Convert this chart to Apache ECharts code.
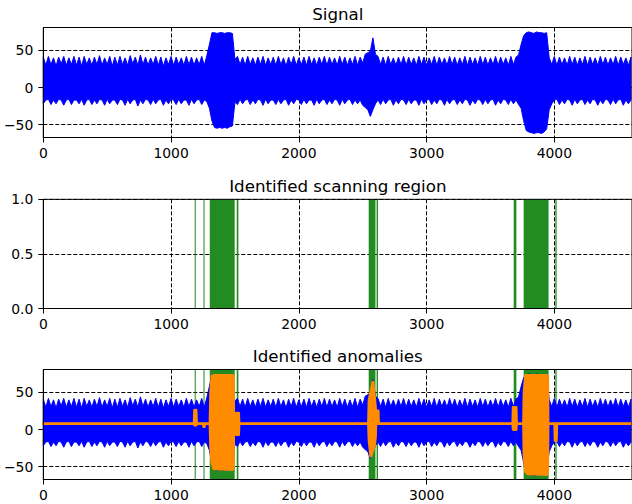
<!DOCTYPE html>
<html>
<head>
<meta charset="utf-8">
<script src="https://cdn.jsdelivr.net/npm/echarts@6/dist/echarts.min.js"></script>
<style>
  html, body { margin: 0; padding: 0; background: #fff; }
  #chart { width: 632px; height: 504px; }
</style>
</head>
<body>
<div id="chart"></div>
<script>
// Signal envelope, one max/min pair per 20-sample bin (bin i starts at sample i*20)
const SAMPLE_STEP = 20;
const SIGNAL_UPPER = [
  41,30,42,31,40,29,41,32,42,30,
  40,31,42,30,41,29,42,31,40,30,
  41,31,43,30,40,31,42,29,41,30,
  42,31,40,30,43,32,41,30,44,31,
  41,30,40,31,42,30,41,29,40,31,
  42,30,41,31,40,30,42,31,41,30,
  40,31,42,30,43,58,74,74,73,74,
  74,73,74,74,73,38,42,31,41,30,
  42,31,40,30,41,31,42,30,40,31,
  41,30,42,31,40,29,41,31,42,30,
  40,31,41,30,42,31,40,30,41,31,
  42,30,41,31,40,30,42,31,41,30,
  40,31,42,30,41,33,45,47,49,67,
  45,42,31,41,30,42,31,40,30,41,
  31,42,30,41,31,40,30,42,31,41,
  30,40,31,42,30,41,31,40,30,42,
  31,41,30,40,31,42,30,41,31,40,
  30,42,31,41,30,40,31,42,30,41,
  31,40,30,42,31,41,44,58,70,74,
  75,74,73,75,74,74,73,74,40,31,
  42,30,41,31,40,30,42,31,41,30,
  40,31,42,30,41,31,40,30,42,31,
  41,30,40,31,42,30,41,31,40,30,
  41
];
const SIGNAL_LOWER = [
  -22,-17,-16,-23,-17,-22,-16,-17,-24,-17,
  -16,-23,-17,-17,-22,-16,-24,-17,-16,-23,
  -17,-22,-16,-17,-24,-16,-22,-17,-17,-23,
  -16,-17,-24,-16,-22,-17,-16,-25,-17,-22,
  -16,-17,-23,-16,-22,-17,-16,-24,-17,-22,
  -16,-17,-23,-16,-22,-17,-17,-24,-16,-22,
  -17,-16,-23,-17,-19,-28,-45,-54,-55,-54,
  -55,-54,-55,-53,-52,-20,-23,-16,-22,-17,
  -16,-23,-17,-22,-16,-17,-24,-16,-22,-17,
  -17,-23,-16,-22,-17,-16,-24,-17,-22,-16,
  -17,-23,-16,-22,-17,-17,-24,-16,-22,-17,
  -16,-23,-17,-22,-16,-17,-24,-16,-22,-17,
  -16,-23,-17,-22,-17,-24,-27,-30,-39,-30,
  -22,-17,-23,-16,-22,-17,-16,-24,-17,-22,
  -16,-17,-23,-16,-22,-17,-17,-24,-16,-22,
  -17,-16,-23,-17,-22,-16,-17,-24,-16,-22,
  -17,-16,-23,-17,-22,-16,-17,-24,-17,-22,
  -16,-17,-23,-16,-22,-17,-16,-24,-17,-22,
  -16,-17,-23,-16,-22,-17,-23,-28,-45,-58,
  -60,-61,-62,-61,-61,-62,-60,-56,-30,-22,
  -17,-16,-23,-17,-22,-16,-17,-24,-16,-22,
  -17,-16,-23,-17,-22,-16,-17,-24,-17,-22,
  -16,-17,-23,-16,-22,-17,-16,-24,-17,-22,
  -17
];

// Anomaly trace: flat at the baseline, following the signal inside flagged windows
const ANOMALY_X = [
  0, 1181, 1184, 1196, 1199, 1253, 1255, 1261, 1263,
  1305, 1310, 1320, 1335, 1480, 1488, 1491,
  1508, 1511, 1529, 1532,
  2545, 2550, 2563, 2580, 2592, 2600, 2603,
  2608, 2611, 2621, 2624,
  3675, 3678, 3701, 3704,
  3759, 3763, 3775, 3790, 3940, 3948, 3951,
  4003, 4006, 4016, 4019, 4608
];
const ANOMALY_UPPER = [
  8, 8, 26, 26, 8, 8, 8, 8, 8,
  8, 50, 72, 73, 73, 72, 8,
  8, 22, 22, 8,
  8, 40, 50, 64, 45, 30, 8,
  8, 25, 25, 8,
  8, 30, 30, 8,
  8, 50, 73, 73, 73, 72, 8,
  8, 8, 8, 8, 8
];
const ANOMALY_LOWER = [
  8, 8, 6, 6, 8, 8, 4, 4, 8,
  8, -25, -45, -53, -54, -50, 8,
  8, -7, -7, 8,
  8, -15, -36, -28, -22, -10, 8,
  8, 8, 8, 8,
  8, 0, 0, 8,
  8, -35, -57, -60, -61, -56, 8,
  8, -15, -15, 8, 8
];

// Scanning regions (sample index ranges)
const REGION_START = [1185, 1254, 1303, 1514, 2547, 2609, 3682, 3760, 4008];
const REGION_END   = [1193, 1262, 1498, 1527, 2600, 2620, 3703, 3955, 4018];

const X_TICKS = [0, 1000, 2000, 3000, 4000];
const SIGNAL_TICKS = [-50, 0, 50];
const MASK_TICKS = [0, 0.5, 1];
const TITLES = ['Signal', 'Identified scanning region', 'Identified anomalies'];

const FONT = 'DejaVu Sans';
const BLUE = '#0000ff';
const ORANGE = '#ff8c00';
const GREEN = '#228b22';
const X_MAX = 4608;
const SIG_MIN = -67.5, SIG_MAX = 81;

const SIGNAL_X = SIGNAL_UPPER.map((_, i) => i * SAMPLE_STEP);

const GRIDS = [
  { left: 43.3, top: 27.5, width: 589, height: 110 },
  { left: 43.3, top: 199.3, width: 589, height: 109.2 },
  { left: 43.3, top: 369.5, width: 589, height: 110 }
];

const minusFmt = v => (v < 0 ? '\u2212' + Math.abs(v) : String(v));
const plainFmt = v => String(v);

function xAxisFor(g) {
  return {
    type: 'value', gridIndex: g, min: 0, max: X_MAX,
    axisLine: { show: true, onZero: false, lineStyle: { color: '#000', width: 1 } },
    axisTick: { show: true, length: 5, customValues: X_TICKS, lineStyle: { color: '#000', width: 1 } },
    axisLabel: { show: true, customValues: X_TICKS, formatter: plainFmt, margin: 8, color: '#000', fontSize: 13.9, fontFamily: FONT },
    splitLine: { show: true, lineStyle: { color: '#000', width: 1, type: [4, 2] } }
  };
}
function yAxisFor(g, min, max, ticks, fmt) {
  return {
    type: 'value', gridIndex: g, min: min, max: max,
    axisLine: { show: true, onZero: false, lineStyle: { color: '#000', width: 1 } },
    axisTick: { show: true, length: 5, customValues: ticks, lineStyle: { color: '#000', width: 1 } },
    axisLabel: { show: true, customValues: ticks, formatter: fmt, margin: 10, color: '#000', fontSize: 13.9, fontFamily: FONT },
    splitLine: { show: true, lineStyle: { color: '#000', width: 1, type: [4, 2] } }
  };
}

// Filled envelope polygon: upper edge left to right, lower edge back
function bandSeries(g, xs, hi, lo, color, strokeW, z) {
  return {
    type: 'custom', xAxisIndex: g, yAxisIndex: g, z: z, silent: true,
    data: xs.map((x, i) => [x, hi[i], lo[i]]),
    encode: { x: 0, y: [1, 2] },
    renderItem: function (params, api) {
      if (params.dataIndex !== 0) return null;
      const pts = [];
      for (let i = 0; i < xs.length; i++) pts.push(api.coord([xs[i], hi[i]]));
      for (let i = xs.length - 1; i >= 0; i--) pts.push(api.coord([xs[i], lo[i]]));
      return {
        type: 'polygon', shape: { points: pts },
        style: { fill: color, stroke: color, lineWidth: strokeW, lineJoin: 'round' }
      };
    }
  };
}

function regionSeries(g, z) {
  return {
    type: 'custom', xAxisIndex: g, yAxisIndex: g, z: z, silent: true,
    data: REGION_START.map((s, i) => [s, REGION_END[i]]),
    encode: { x: [0, 1] },
    renderItem: function (params, api) {
      const a = api.coord([api.value(0), 0]);
      const b = api.coord([api.value(1), 0]);
      const cs = params.coordSys;
      return {
        type: 'rect',
        shape: { x: a[0], y: cs.y, width: Math.max(b[0] - a[0], 1), height: cs.height },
        style: { fill: GREEN }
      };
    }
  };
}

const chart = echarts.init(document.getElementById('chart'), null, { renderer: 'svg' });
const titleX = 43.3 + 589 / 2;
chart.setOption({
  animation: false,
  backgroundColor: '#fff',
  grid: GRIDS.map(gr => Object.assign({ show: true, borderColor: '#000', borderWidth: 1, backgroundColor: 'transparent', z: 5 }, gr)),
  xAxis: [xAxisFor(0), xAxisFor(1), xAxisFor(2)],
  yAxis: [
    yAxisFor(0, SIG_MIN, SIG_MAX, SIGNAL_TICKS, minusFmt),
    yAxisFor(1, 0, 1, MASK_TICKS, v => Number(v).toFixed(1)),
    yAxisFor(2, SIG_MIN, SIG_MAX, SIGNAL_TICKS, minusFmt)
  ],
  graphic: TITLES.map((t, i) => ({
    type: 'text', x: titleX, y: GRIDS[i].top - 13.5, silent: true,
    style: { text: t, fontFamily: FONT, fontSize: 16.7, fill: '#000', align: 'center', verticalAlign: 'middle' }
  })),
  series: [
    bandSeries(0, SIGNAL_X, SIGNAL_UPPER, SIGNAL_LOWER, BLUE, 1, 3),
    regionSeries(1, 2),
    regionSeries(2, 2),
    bandSeries(2, SIGNAL_X, SIGNAL_UPPER, SIGNAL_LOWER, BLUE, 1, 3),
    bandSeries(2, ANOMALY_X, ANOMALY_UPPER, ANOMALY_LOWER, ORANGE, 2.8, 4)
  ]
});
</script>
</body>
</html>
